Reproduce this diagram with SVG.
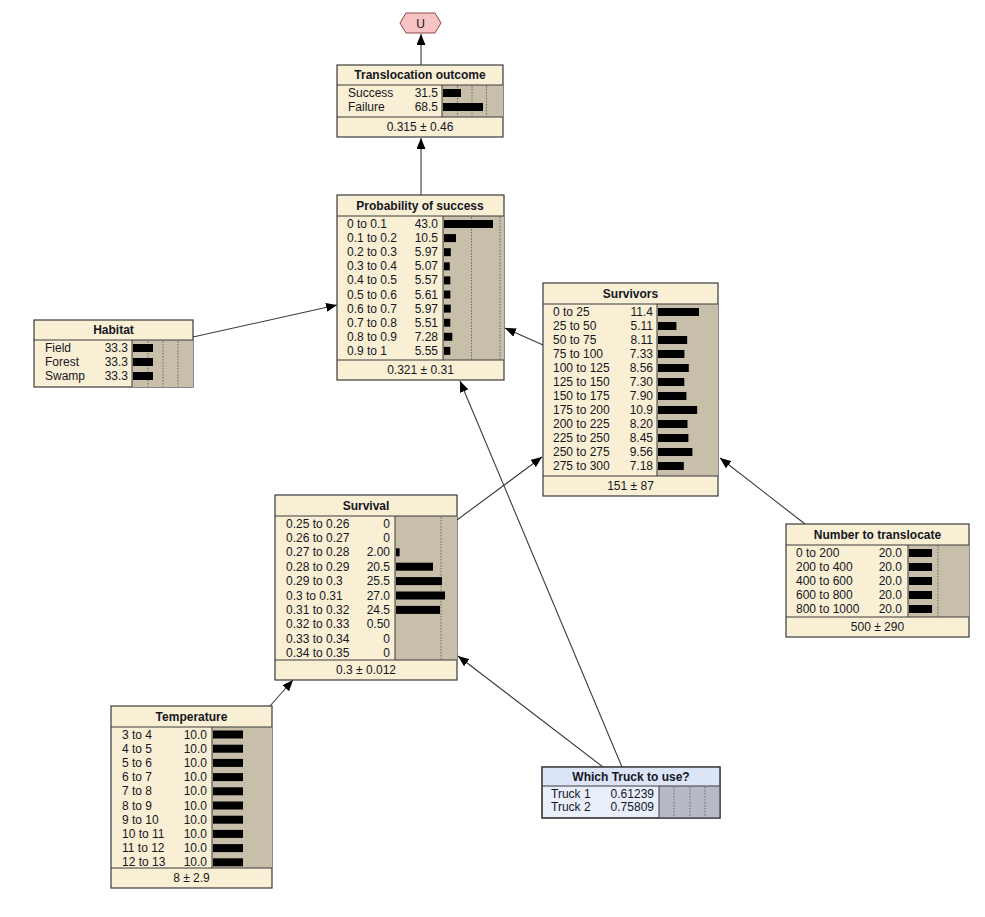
<svg xmlns="http://www.w3.org/2000/svg" width="985" height="917" viewBox="0 0 985 917">
  <style>
    text { font-family: "Liberation Sans", Arial, sans-serif; font-size: 12px; fill: #16161e; }
    .title { font-weight: bold; text-anchor: middle; }
    .val { text-anchor: end; }
    .mid { text-anchor: middle; }
    .box { fill: #f8efd4; stroke: #3a3a3a; stroke-width: 1.2; }
    .sep { stroke: #3a3a3a; stroke-width: 1; }
    .belt { fill: #c8bfaa; }
    .grid { stroke: #6e6a60; stroke-width: 1; stroke-dasharray: 1.5 1.5; }
    .bar { fill: #000; }
    .dbox { fill: #e9eefb; stroke: #3a3a3a; stroke-width: 1.2; }
    .dhead { fill: #dce5f8; }
    .dbelt { fill: #b6b9c8; }
    .link { stroke: #3a3a3a; stroke-width: 1.1; fill: none; marker-end: url(#arrow); }
  </style>
  <defs>
    <marker id="arrow" markerUnits="userSpaceOnUse" markerWidth="11" markerHeight="9" refX="11" refY="4.5" orient="auto">
      <path d="M0,0 L11,4.5 L0,9 z" fill="#000"/>
    </marker>
  </defs>
  <rect width="985" height="917" fill="#fff"/>

  <!-- links between nodes -->
  <g id="connectors">
    <path class="link" d="M421,195 L421,138"/>
    <path class="link" d="M421,65 L421,34"/>
    <path class="link" d="M193,337 L337,305"/>
    <path class="link" d="M543,345 L505,328"/>
    <path class="link" d="M457,520 L542,457"/>
    <path class="link" d="M805,524 L720,458"/>
    <path class="link" d="M270,706 L293,680"/>
    <path class="link" d="M603,767 L458,656"/>
    <path class="link" d="M622,767 L460,381"/>
  </g>

  <!-- utility node -->
  <g id="U">
    <polygon points="400,23 406,13 435,13 441,23 435,33 406,33" fill="#f7c3c3" stroke="#8a4a4a" stroke-width="1"/>
    <text class="mid" x="420.5" y="27.5">U</text>
  </g>

  <g id="translocation-outcome">
    <rect class="box" x="337" y="65" width="166" height="72"/>
    <rect class="belt" x="442" y="85" width="61" height="32"/>
    <line class="sep" x1="337" y1="85" x2="503" y2="85"/>
    <line class="sep" x1="337" y1="117" x2="503" y2="117"/>
    <line class="sep" x1="442" y1="85" x2="442" y2="117"/>
    <line class="grid" x1="457.5" y1="86" x2="457.5" y2="117"/>
    <line class="grid" x1="472" y1="86" x2="472" y2="117"/>
    <line class="grid" x1="486.5" y1="86" x2="486.5" y2="117"/>
    <text class="title" x="420" y="79">Translocation outcome</text>
    <text x="348" y="97">Success</text><text class="val" x="438" y="97">31.5</text>
    <text x="348" y="111">Failure</text><text class="val" x="438" y="111">68.5</text>
    <rect class="bar" x="443" y="89" width="18" height="8"/>
    <rect class="bar" x="443" y="103" width="40" height="8"/>
    <text class="mid" x="420" y="131">0.315 ± 0.46</text>
  </g>

  <g id="probability-of-success">
    <rect class="box" x="337" y="195" width="167" height="185"/>
    <rect class="belt" x="443" y="216" width="61" height="144"/>
    <line class="sep" x1="337" y1="216" x2="504" y2="216"/>
    <line class="sep" x1="337" y1="360" x2="504" y2="360"/>
    <line class="sep" x1="443" y1="216" x2="443" y2="360"/>
    <line class="grid" x1="471.5" y1="217" x2="471.5" y2="360"/>
    <line class="grid" x1="500" y1="217" x2="500" y2="360"/>
    <text class="title" x="420" y="209.5">Probability of success</text>
    <text x="347" y="228">0 to 0.1</text><text class="val" x="438" y="228">43.0</text>
    <text x="347" y="242.1">0.1 to 0.2</text><text class="val" x="438" y="242.1">10.5</text>
    <text x="347" y="256.2">0.2 to 0.3</text><text class="val" x="438" y="256.2">5.97</text>
    <text x="347" y="270.3">0.3 to 0.4</text><text class="val" x="438" y="270.3">5.07</text>
    <text x="347" y="284.4">0.4 to 0.5</text><text class="val" x="438" y="284.4">5.57</text>
    <text x="347" y="298.5">0.5 to 0.6</text><text class="val" x="438" y="298.5">5.61</text>
    <text x="347" y="312.6">0.6 to 0.7</text><text class="val" x="438" y="312.6">5.97</text>
    <text x="347" y="326.7">0.7 to 0.8</text><text class="val" x="438" y="326.7">5.51</text>
    <text x="347" y="340.8">0.8 to 0.9</text><text class="val" x="438" y="340.8">7.28</text>
    <text x="347" y="354.9">0.9 to 1</text><text class="val" x="438" y="354.9">5.55</text>
    <rect class="bar" x="444" y="220" width="49" height="8"/>
    <rect class="bar" x="444" y="234.1" width="12" height="8"/>
    <rect class="bar" x="444" y="248.2" width="6.8" height="8"/>
    <rect class="bar" x="444" y="262.3" width="5.8" height="8"/>
    <rect class="bar" x="444" y="276.4" width="6.3" height="8"/>
    <rect class="bar" x="444" y="290.5" width="6.4" height="8"/>
    <rect class="bar" x="444" y="304.6" width="6.8" height="8"/>
    <rect class="bar" x="444" y="318.7" width="6.3" height="8"/>
    <rect class="bar" x="444" y="332.8" width="8.3" height="8"/>
    <rect class="bar" x="444" y="346.9" width="6.3" height="8"/>
    <text class="mid" x="420.5" y="374">0.321 ± 0.31</text>
  </g>

  <g id="habitat">
    <rect class="box" x="34" y="320" width="159" height="67"/>
    <rect class="belt" x="132" y="340" width="61" height="47"/>
    <line class="sep" x1="34" y1="340" x2="193" y2="340"/>
    <line class="sep" x1="132" y1="340" x2="132" y2="387"/>
    <line class="grid" x1="148" y1="341" x2="148" y2="387"/>
    <line class="grid" x1="163" y1="341" x2="163" y2="387"/>
    <line class="grid" x1="178" y1="341" x2="178" y2="387"/>
    <text class="title" x="113.5" y="334">Habitat</text>
    <text x="45" y="352">Field</text><text class="val" x="128" y="352">33.3</text>
    <text x="45" y="366">Forest</text><text class="val" x="128" y="366">33.3</text>
    <text x="45" y="380">Swamp</text><text class="val" x="128" y="380">33.3</text>
    <rect class="bar" x="133" y="344" width="20" height="8"/>
    <rect class="bar" x="133" y="358" width="20" height="8"/>
    <rect class="bar" x="133" y="372" width="20" height="8"/>
  </g>

  <g id="survivors">
    <rect class="box" x="543" y="283" width="175" height="213"/>
    <rect class="belt" x="657" y="304" width="61" height="172"/>
    <line class="sep" x1="543" y1="304" x2="718" y2="304"/>
    <line class="sep" x1="543" y1="476" x2="718" y2="476"/>
    <line class="sep" x1="657" y1="304" x2="657" y2="476"/>
    <text class="title" x="630.5" y="297.5">Survivors</text>
    <text x="553" y="316">0 to 25</text><text class="val" x="653" y="316">11.4</text>
    <text x="553" y="330">25 to 50</text><text class="val" x="653" y="330">5.11</text>
    <text x="553" y="344">50 to 75</text><text class="val" x="653" y="344">8.11</text>
    <text x="553" y="358">75 to 100</text><text class="val" x="653" y="358">7.33</text>
    <text x="553" y="372">100 to 125</text><text class="val" x="653" y="372">8.56</text>
    <text x="553" y="386">125 to 150</text><text class="val" x="653" y="386">7.30</text>
    <text x="553" y="400">150 to 175</text><text class="val" x="653" y="400">7.90</text>
    <text x="553" y="414">175 to 200</text><text class="val" x="653" y="414">10.9</text>
    <text x="553" y="428">200 to 225</text><text class="val" x="653" y="428">8.20</text>
    <text x="553" y="442">225 to 250</text><text class="val" x="653" y="442">8.45</text>
    <text x="553" y="456">250 to 275</text><text class="val" x="653" y="456">9.56</text>
    <text x="553" y="470">275 to 300</text><text class="val" x="653" y="470">7.18</text>
    <rect class="bar" x="658" y="308" width="41" height="8"/>
    <rect class="bar" x="658" y="322" width="18.4" height="8"/>
    <rect class="bar" x="658" y="336" width="29.2" height="8"/>
    <rect class="bar" x="658" y="350" width="26.4" height="8"/>
    <rect class="bar" x="658" y="364" width="30.8" height="8"/>
    <rect class="bar" x="658" y="378" width="26.3" height="8"/>
    <rect class="bar" x="658" y="392" width="28.4" height="8"/>
    <rect class="bar" x="658" y="406" width="39.2" height="8"/>
    <rect class="bar" x="658" y="420" width="29.5" height="8"/>
    <rect class="bar" x="658" y="434" width="30.4" height="8"/>
    <rect class="bar" x="658" y="448" width="34.4" height="8"/>
    <rect class="bar" x="658" y="462" width="25.8" height="8"/>
    <text class="mid" x="630.5" y="490">151 ± 87</text>
  </g>

  <g id="survival">
    <rect class="box" x="275" y="495" width="182" height="185"/>
    <rect class="belt" x="395" y="516" width="62" height="144"/>
    <line class="sep" x1="275" y1="516" x2="457" y2="516"/>
    <line class="sep" x1="275" y1="660" x2="457" y2="660"/>
    <line class="sep" x1="395" y1="516" x2="395" y2="660"/>
    <line class="grid" x1="441" y1="517" x2="441" y2="660"/>
    <text class="title" x="366" y="509.5">Survival</text>
    <text x="286" y="527.5">0.25 to 0.26</text><text class="val" x="390" y="527.5">0</text>
    <text x="286" y="541.9">0.26 to 0.27</text><text class="val" x="390" y="541.9">0</text>
    <text x="286" y="556.3">0.27 to 0.28</text><text class="val" x="390" y="556.3">2.00</text>
    <text x="286" y="570.7">0.28 to 0.29</text><text class="val" x="390" y="570.7">20.5</text>
    <text x="286" y="585.1">0.29 to 0.3</text><text class="val" x="390" y="585.1">25.5</text>
    <text x="286" y="599.5">0.3 to 0.31</text><text class="val" x="390" y="599.5">27.0</text>
    <text x="286" y="613.9">0.31 to 0.32</text><text class="val" x="390" y="613.9">24.5</text>
    <text x="286" y="628.3">0.32 to 0.33</text><text class="val" x="390" y="628.3">0.50</text>
    <text x="286" y="642.7">0.33 to 0.34</text><text class="val" x="390" y="642.7">0</text>
    <text x="286" y="657.1">0.34 to 0.35</text><text class="val" x="390" y="657.1">0</text>
    <rect class="bar" x="396" y="548.3" width="3.6" height="8"/>
    <rect class="bar" x="396" y="562.7" width="37" height="8"/>
    <rect class="bar" x="396" y="577.1" width="46" height="8"/>
    <rect class="bar" x="396" y="591.5" width="49" height="8"/>
    <rect class="bar" x="396" y="605.9" width="44" height="8"/>
    <text class="mid" x="366" y="674">0.3 ± 0.012</text>
  </g>

  <g id="number-to-translocate">
    <rect class="box" x="786" y="524" width="183" height="113"/>
    <rect class="belt" x="908" y="545" width="61" height="72"/>
    <line class="sep" x1="786" y1="545" x2="969" y2="545"/>
    <line class="sep" x1="786" y1="617" x2="969" y2="617"/>
    <line class="sep" x1="908" y1="545" x2="908" y2="617"/>
    <line class="grid" x1="938" y1="546" x2="938" y2="617"/>
    <text class="title" x="877.5" y="538.5">Number to translocate</text>
    <text x="796" y="557">0 to 200</text><text class="val" x="902" y="557">20.0</text>
    <text x="796" y="571">200 to 400</text><text class="val" x="902" y="571">20.0</text>
    <text x="796" y="585">400 to 600</text><text class="val" x="902" y="585">20.0</text>
    <text x="796" y="599">600 to 800</text><text class="val" x="902" y="599">20.0</text>
    <text x="796" y="613">800 to 1000</text><text class="val" x="902" y="613">20.0</text>
    <rect class="bar" x="909" y="549" width="23" height="8"/>
    <rect class="bar" x="909" y="563" width="23" height="8"/>
    <rect class="bar" x="909" y="577" width="23" height="8"/>
    <rect class="bar" x="909" y="591" width="23" height="8"/>
    <rect class="bar" x="909" y="605" width="23" height="8"/>
    <text class="mid" x="877.5" y="631">500 ± 290</text>
  </g>

  <g id="temperature">
    <rect class="box" x="111" y="706" width="161" height="182"/>
    <rect class="belt" x="212" y="727" width="60" height="141"/>
    <line class="sep" x1="111" y1="727" x2="272" y2="727"/>
    <line class="sep" x1="111" y1="868" x2="272" y2="868"/>
    <line class="sep" x1="212" y1="727" x2="212" y2="868"/>
    <text class="title" x="191.5" y="720.5">Temperature</text>
    <text x="122" y="738.5">3 to 4</text><text class="val" x="207" y="738.5">10.0</text>
    <text x="122" y="752.7">4 to 5</text><text class="val" x="207" y="752.7">10.0</text>
    <text x="122" y="766.9">5 to 6</text><text class="val" x="207" y="766.9">10.0</text>
    <text x="122" y="781.1">6 to 7</text><text class="val" x="207" y="781.1">10.0</text>
    <text x="122" y="795.3">7 to 8</text><text class="val" x="207" y="795.3">10.0</text>
    <text x="122" y="809.5">8 to 9</text><text class="val" x="207" y="809.5">10.0</text>
    <text x="122" y="823.7">9 to 10</text><text class="val" x="207" y="823.7">10.0</text>
    <text x="122" y="837.9">10 to 11</text><text class="val" x="207" y="837.9">10.0</text>
    <text x="122" y="852.1">11 to 12</text><text class="val" x="207" y="852.1">10.0</text>
    <text x="122" y="866.3">12 to 13</text><text class="val" x="207" y="866.3">10.0</text>
    <rect class="bar" x="213" y="730.5" width="30" height="8"/>
    <rect class="bar" x="213" y="744.7" width="30" height="8"/>
    <rect class="bar" x="213" y="758.9" width="30" height="8"/>
    <rect class="bar" x="213" y="773.1" width="30" height="8"/>
    <rect class="bar" x="213" y="787.3" width="30" height="8"/>
    <rect class="bar" x="213" y="801.5" width="30" height="8"/>
    <rect class="bar" x="213" y="815.7" width="30" height="8"/>
    <rect class="bar" x="213" y="829.9" width="30" height="8"/>
    <rect class="bar" x="213" y="844.1" width="30" height="8"/>
    <rect class="bar" x="213" y="858.3" width="30" height="8"/>
    <text class="mid" x="191.5" y="882">8 ± 2.9</text>
  </g>

  <g id="which-truck">
    <rect class="dbox" x="542" y="767" width="178" height="51"/>
    <rect class="dhead" x="542.6" y="767.6" width="176.8" height="18.4"/>
    <rect class="dbelt" x="659" y="786" width="61" height="32"/>
    <line class="sep" x1="542" y1="786" x2="720" y2="786"/>
    <line class="sep" x1="659" y1="786" x2="659" y2="818"/>
    <line class="grid" x1="674" y1="787" x2="674" y2="818"/>
    <line class="grid" x1="690" y1="787" x2="690" y2="818"/>
    <line class="grid" x1="705" y1="787" x2="705" y2="818"/>
    <rect x="542" y="767" width="178" height="51" fill="none" stroke="#3a3a3a" stroke-width="1.2"/>
    <text class="title" x="631" y="780.5">Which Truck to use?</text>
    <text x="551" y="798">Truck 1</text><text class="val" x="654" y="798">0.61239</text>
    <text x="551" y="811">Truck 2</text><text class="val" x="654" y="811">0.75809</text>
  </g>
</svg>
